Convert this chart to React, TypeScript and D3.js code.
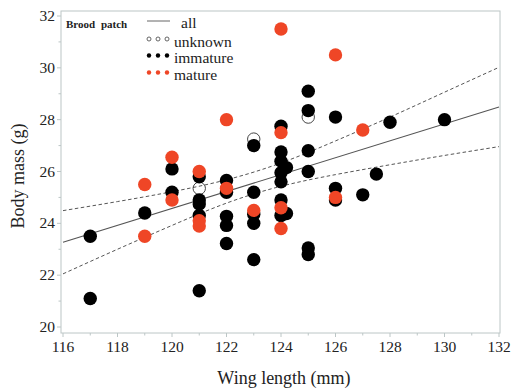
import React from "react";
import * as d3 from "d3";

// ---- data ----
const unknownWing = [121, 123, 125];
const unknownMass = [25.35, 27.25, 28.1];

const immatureWing = [
  117, 117, 119, 120, 120,
  121, 121, 121, 121, 121,
  122, 122, 122, 122, 122,
  123, 123, 123, 123, 123,
  124, 124, 124, 124, 124, 124, 124, 124.2, 124.2,
  125, 125, 125, 125, 125, 125,
  126, 126, 126, 127, 127.5, 128, 130,
];
const immatureMass = [
  23.5, 21.1, 24.4, 26.1, 25.2,
  25.8, 24.9, 24.75, 24.3, 21.4,
  25.65, 25.2, 24.27, 23.92, 23.22,
  27.0, 25.2, 24.35, 24.0, 22.6,
  27.75, 26.75, 26.4, 25.95, 25.6, 24.9, 24.3, 26.15, 24.38,
  29.1, 28.35, 26.8, 26.0, 23.05, 22.8,
  28.1, 25.35, 24.9, 25.1, 25.9, 27.9, 28.0,
];

const matureWing = [119, 119, 120, 120, 121, 121, 121, 122, 122, 123, 124, 124, 124, 124, 126, 126, 127];
const matureMass = [25.5, 23.5, 26.55, 24.9, 26.0, 24.1, 23.9, 28.0, 25.35, 24.5, 31.5, 27.5, 24.6, 23.8, 30.5, 25.0, 27.6];

const fitX = [116, 132];
const fitY = [23.27, 28.49];

const bandX = [116, 118, 120, 122, 124, 126, 128, 130, 132];
const bandUpper = [24.49, 24.84, 25.22, 25.68, 26.33, 27.18, 28.1, 29.06, 30.02];
const bandLower = [22.05, 23.0, 23.92, 24.78, 25.43, 25.88, 26.26, 26.62, 26.96];

const xTicks = [116, 118, 120, 122, 124, 126, 128, 130, 132];
const xMinor = [117, 119, 121, 123, 125, 127, 129, 131];
const yTicks = [20, 22, 24, 26, 28, 30, 32];
const yMinor = [21, 23, 25, 27, 29, 31];

const legendLabels = ["all", "unknown", "immature", "mature"];

const RED = "#ef4626";
const FRAME = "#bcc6c6";
const FONT = "'Liberation Serif', 'Times New Roman', serif";

export default function App() {
  const W = 515, H = 388;
  const left = 61, right = 500, top = 11, bottom = 333;
  const x = d3.scaleLinear().domain([116, 132]).range([63, 499]);
  const y = d3.scaleLinear().domain([20, 32]).range([327, 16]);
  const r = 6.7;

  const fitLine = d3.line<number>().x((d, i) => x(fitX[i])).y((d) => y(d));
  const bandLine = d3
    .line<number>()
    .x((d, i) => x(bandX[i]))
    .y((d) => y(d))
    .curve(d3.curveNatural);

  return (
    <svg width={W} height={H} style={{ position: "absolute", left: 0, top: 0, background: "#fff" }}>
      <defs>
        <clipPath id="plot">
          <rect x={left} y={top} width={right - left} height={bottom - top} />
        </clipPath>
      </defs>
      <rect x={0} y={0} width={W} height={H} fill="#fff" />
      {/* frame */}
      <rect x={left} y={top} width={right - left} height={bottom - top} fill="none" stroke={FRAME} strokeWidth={1} />

      {/* x ticks */}
      {xTicks.map((t) => (
        <g key={"xt" + t}>
          <line x1={x(t)} x2={x(t)} y1={bottom} y2={bottom + 4} stroke={FRAME} />
          <text x={x(t)} y={352} textAnchor="middle" fontFamily={FONT} fontSize={15.5} fill="#222">
            {t}
          </text>
        </g>
      ))}
      {xMinor.map((t) => (
        <line key={"xm" + t} x1={x(t)} x2={x(t)} y1={bottom} y2={bottom + 2.5} stroke={FRAME} />
      ))}
      {/* y ticks */}
      {yTicks.map((t) => (
        <g key={"yt" + t}>
          <line x1={left - 4} x2={left} y1={y(t)} y2={y(t)} stroke={FRAME} />
          <text x={55} y={y(t) + 5} textAnchor="end" fontFamily={FONT} fontSize={15.5} fill="#222">
            {t}
          </text>
        </g>
      ))}
      {yMinor.map((t) => (
        <line key={"ym" + t} x1={left - 2.5} x2={left} y1={y(t)} y2={y(t)} stroke={FRAME} />
      ))}

      {/* axis titles */}
      <text x={284} y={384} textAnchor="middle" fontFamily={FONT} fontSize={18} fill="#222">
        Wing length (mm)
      </text>
      <text
        transform={`translate(24,176) rotate(-90)`}
        textAnchor="middle"
        fontFamily={FONT}
        fontSize={18}
        fill="#222"
      >
        Body mass (g)
      </text>

      <g clipPath="url(#plot)">
        {/* regression & bands */}
        <path d={fitLine(fitY) || ""} fill="none" stroke="#555" strokeWidth={1.1} />
        <path d={bandLine(bandUpper) || ""} fill="none" stroke="#555" strokeWidth={1} strokeDasharray="3.5,2.5" />
        <path d={bandLine(bandLower) || ""} fill="none" stroke="#555" strokeWidth={1} strokeDasharray="3.5,2.5" />

        {/* points */}
        {unknownWing.map((w, i) => (
          <circle key={"u" + i} cx={x(w)} cy={y(unknownMass[i])} r={r - 0.5} fill="none" stroke="#444" strokeWidth={1} />
        ))}
        {immatureWing.map((w, i) => (
          <circle key={"i" + i} cx={x(w)} cy={y(immatureMass[i])} r={r} fill="#000" />
        ))}
        {matureWing.map((w, i) => (
          <circle key={"m" + i} cx={x(w)} cy={y(matureMass[i])} r={r} fill={RED} />
        ))}
      </g>

      {/* legend */}
      <text x={66} y={28} fontFamily={FONT} fontSize={11} fontWeight="bold" fill="#222" wordSpacing={3}>
        Brood patch
      </text>
      <line x1={147} x2={170} y1={21} y2={21} stroke="#666" strokeWidth={1} />
      <text x={181} y={28} fontFamily={FONT} fontSize={15.5} fill="#222">
        {legendLabels[0]}
      </text>
      {[149, 158, 167].map((cx) => (
        <circle key={"lu" + cx} cx={cx} cy={39} r={2} fill="none" stroke="#555" strokeWidth={0.9} />
      ))}
      <text x={174} y={46.5} fontFamily={FONT} fontSize={15.5} fill="#222">
        {legendLabels[1]}
      </text>
      {[149, 158, 167].map((cx) => (
        <circle key={"li" + cx} cx={cx} cy={55.5} r={2.2} fill="#000" />
      ))}
      <text x={174} y={63} fontFamily={FONT} fontSize={15.5} fill="#222">
        {legendLabels[2]}
      </text>
      {[149, 158, 167].map((cx) => (
        <circle key={"lm" + cx} cx={cx} cy={72.5} r={2.2} fill={RED} />
      ))}
      <text x={174} y={80} fontFamily={FONT} fontSize={15.5} fill="#222">
        {legendLabels[3]}
      </text>
    </svg>
  );
}
